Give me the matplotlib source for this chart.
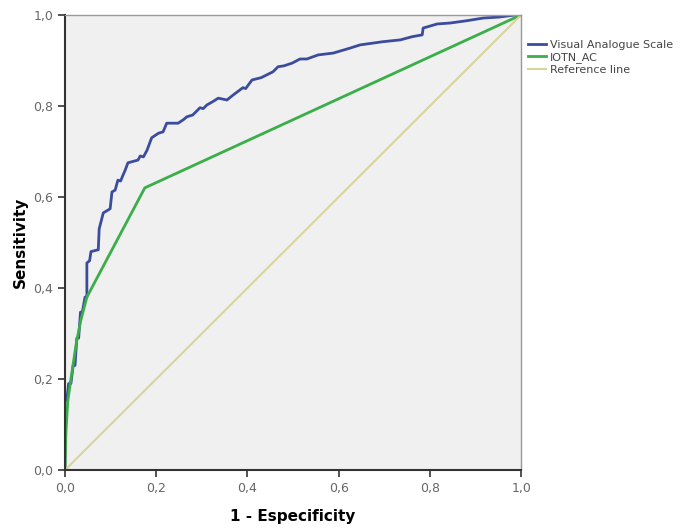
import numpy as np
import matplotlib
matplotlib.use("Agg")
import matplotlib.pyplot as plt

# ROC curve points (1 - specificity, sensitivity)
vas_fpr = [0, 0, 0.004, 0.008, 0.013, 0.018, 0.022, 0.026, 0.030, 0.034, 0.038,
           0.044, 0.048, 0.048, 0.054, 0.057, 0.073, 0.075, 0.084, 0.094, 0.099,
           0.103, 0.110, 0.116, 0.122, 0.126, 0.132, 0.138, 0.160, 0.165, 0.172,
           0.180, 0.190, 0.205, 0.215, 0.223, 0.248, 0.260, 0.267, 0.280, 0.296,
           0.303, 0.311, 0.325, 0.336, 0.355, 0.370, 0.390, 0.396, 0.410, 0.430,
           0.456, 0.467, 0.480, 0.498, 0.515, 0.530, 0.555, 0.588, 0.625, 0.647,
           0.697, 0.735, 0.761, 0.783, 0.785, 0.816, 0.844, 0.880, 0.917, 0.950,
           0.990, 1.0]
vas_tpr = [0, 0.154, 0.154, 0.190, 0.190, 0.230, 0.230, 0.290, 0.290, 0.347, 0.347,
           0.380, 0.380, 0.455, 0.460, 0.480, 0.484, 0.530, 0.565, 0.571, 0.574,
           0.611, 0.615, 0.637, 0.635, 0.645, 0.659, 0.675, 0.681, 0.690, 0.688,
           0.703, 0.730, 0.740, 0.743, 0.762, 0.762, 0.770, 0.776, 0.780, 0.796,
           0.794, 0.802, 0.810, 0.817, 0.813, 0.825, 0.840, 0.838, 0.857, 0.862,
           0.875, 0.886, 0.888, 0.894, 0.903, 0.903, 0.912, 0.916, 0.927, 0.934,
           0.941, 0.945, 0.952, 0.956, 0.971, 0.980, 0.982, 0.987, 0.993, 0.995,
           1.0, 1.0]

iotn_fpr = [0, 0.002, 0.006, 0.013, 0.025, 0.035, 0.048, 0.175, 1.0]
iotn_tpr = [0, 0.08, 0.15, 0.20, 0.28, 0.33, 0.38, 0.62, 1.0]

ref_x = [0, 1]
ref_y = [0, 1]

tick_vals = [0.0, 0.2, 0.4, 0.6, 0.8, 1.0]
tick_labels = ["0,0", "0,2", "0,4", "0,6", "0,8", "1,0"]

fig = plt.figure(figsize=(6.81, 5.30), dpi=100)
ax = fig.add_axes([0.0954, 0.113, 0.670, 0.859])
ax.set_facecolor("#f0f0f0")

ax.plot(vas_fpr, vas_tpr, color="#3b4c9e", lw=2.0, label="Visual Analogue Scale")
ax.plot(iotn_fpr, iotn_tpr, color="#3aae48", lw=2.0, label="IOTN_AC")
ax.plot(ref_x, ref_y, color="#d9d49c", lw=1.5, label="Reference line")

ax.set_xlim(0, 1)
ax.set_ylim(0, 1)
ax.set_xticks(tick_vals)
ax.set_xticklabels(tick_labels)
ax.set_yticks(tick_vals)
ax.set_yticklabels(tick_labels)
ax.tick_params(direction="out", length=5, width=1.2, colors="#333333",
               labelcolor="#666666", labelsize=9)

for side in ["left", "bottom"]:
    ax.spines[side].set_color("#333333")
    ax.spines[side].set_linewidth(1.5)
for side in ["top", "right"]:
    ax.spines[side].set_color("#999999")
    ax.spines[side].set_linewidth(1.0)

ax.set_xlabel("1 - Especificity", fontsize=11, fontweight="bold", labelpad=10)
ax.set_ylabel("Sensitivity", fontsize=11, fontweight="bold", labelpad=4)

leg = ax.legend(loc="upper left", bbox_to_anchor=(1.0, 0.96), frameon=False,
                fontsize=8, handlelength=1.6, handletextpad=0.4,
                labelspacing=0.2, borderaxespad=0.2)
for t in leg.get_texts():
    t.set_color("#444444")

fig.savefig("out.png", dpi=100)
